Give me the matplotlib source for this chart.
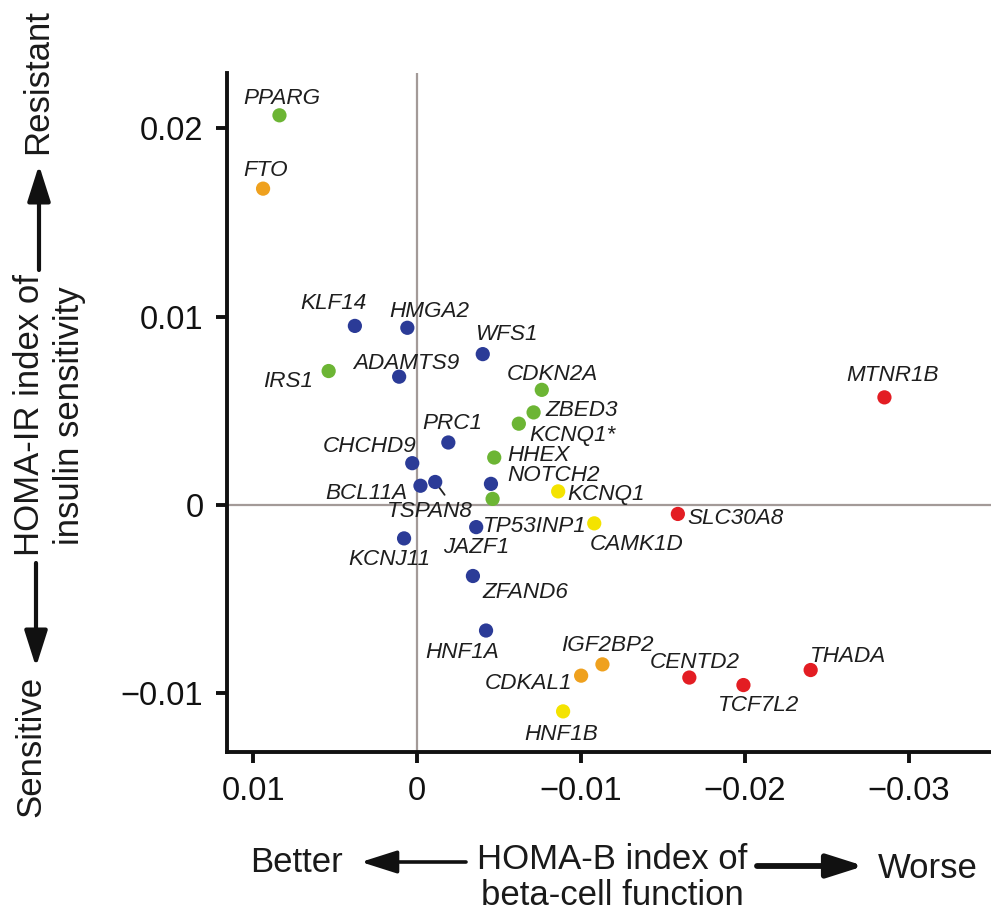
import matplotlib.pyplot as plt

# effect of each variant on HOMA-B (x) and HOMA-IR (y)
genes = ['PPARG', 'FTO', 'KLF14', 'HMGA2', 'WFS1', 'IRS1', 'ADAMTS9', 'CDKN2A',
         'ZBED3', 'KCNQ1*', 'PRC1', 'CHCHD9', 'HHEX', 'NOTCH2', 'BCL11A', 'TSPAN8',
         'TP53INP1', 'KCNQ1', 'JAZF1', 'CAMK1D', 'SLC30A8', 'KCNJ11', 'ZFAND6',
         'MTNR1B', 'HNF1A', 'IGF2BP2', 'CDKAL1', 'HNF1B', 'CENTD2', 'TCF7L2', 'THADA']
homa_b = [0.0084, 0.0094, 0.0038, 0.0006, -0.0040, 0.0054, 0.0011, -0.0076,
          -0.0071, -0.0062, -0.0019, 0.0003, -0.0047, -0.0045, -0.0002, -0.0011,
          -0.0046, -0.0086, -0.0036, -0.0108, -0.0159, 0.0008, -0.0034,
          -0.0285, -0.0042, -0.0113, -0.0100, -0.0089, -0.0166, -0.0199, -0.0240]
homa_ir = [0.0207, 0.0168, 0.0095, 0.0094, 0.0080, 0.0071, 0.0068, 0.0061,
           0.0049, 0.0043, 0.0033, 0.0022, 0.0025, 0.0011, 0.0010, 0.0012,
           0.0003, 0.0007, -0.0012, -0.0010, -0.0005, -0.0018, -0.0038,
           0.0057, -0.0067, -0.0085, -0.0091, -0.0110, -0.0092, -0.0096, -0.0088]
groups = ['green', 'orange', 'blue', 'blue', 'blue', 'green', 'blue', 'green',
          'green', 'green', 'blue', 'blue', 'green', 'blue', 'blue', 'blue',
          'green', 'yellow', 'blue', 'yellow', 'red', 'blue', 'blue',
          'red', 'blue', 'orange', 'orange', 'yellow', 'red', 'red', 'red']

x_ticks = [0.01, 0, -0.01, -0.02, -0.03]
x_ticklabels = ['0.01', '0', '\u22120.01', '\u22120.02', '\u22120.03']
y_ticks = [-0.01, 0, 0.01, 0.02]
y_ticklabels = ['\u22120.01', '0', '0.01', '0.02']

colors = {'green': '#6cb534', 'orange': '#efa11e', 'blue': '#2b3b97',
          'red': '#e31d23', 'yellow': '#f4e300'}

# label placement relative to each dot (pixels) and alignment
label_dx = [2, 3, -21, 22, 24, -16, 7, 11, 12, 10, 4, 4, 13, 63, -13, -5,
            -10, 9, 0, -4, 10, -15, 10, 8, -24, 5, -9, -2, 5, 15, 37]
label_dy = [11, 13, 17, 11, 14, -16, 8, 10, -4, -17, 13, 11, -3, 3, -13, -35,
            -33, -9, -26, -27, -10, -27, -22, 16, -27, 13, -13, -29, 10, -26, 8]
label_ha = ['center', 'center', 'center', 'center', 'center', 'right', 'center', 'center',
            'left', 'left', 'center', 'right', 'left', 'center', 'right', 'center',
            'left', 'left', 'center', 'left', 'left', 'center', 'left',
            'center', 'center', 'center', 'right', 'center', 'center', 'center', 'center']

plt.rcParams['font.family'] = ['Liberation Sans', 'DejaVu Sans']

W, H = 991, 918
fig = plt.figure(figsize=(W / 100, H / 100), dpi=100)
ax = fig.add_axes([227 / W, 1 - 752 / H, 1 - 227 / W, (752 - 73) / H])

ax.axhline(0, color='#a39a98', lw=1.6, zorder=1)
ax.axvline(0, color='#a39a98', lw=1.6, zorder=1)

ax.scatter(homa_b, homa_ir, s=105, c=[colors[g] for g in groups],
           edgecolors='none', zorder=3)

for i, g in enumerate(genes):
    props = None
    if g == 'TSPAN8':
        props = dict(arrowstyle='-', color='#222222', lw=1.3, relpos=(0.72, 1.0),
                     shrinkA=3, shrinkB=4)
    ax.annotate(g, (homa_b[i], homa_ir[i]), xytext=(label_dx[i], label_dy[i]),
                textcoords='offset pixels', ha=label_ha[i], va='baseline',
                fontsize=16.2, style='italic', color='#1e1e1e',
                arrowprops=props, zorder=2)

ax.set_xlim(0.0116, -0.035)
ax.set_ylim(-0.01316, 0.02295)
ax.set_xticks(x_ticks)
ax.set_xticklabels(x_ticklabels)
ax.set_yticks(y_ticks)
ax.set_yticklabels(y_ticklabels)
ax.tick_params(direction='out', length=8, width=2.8, labelsize=23.5,
               pad=9, colors='#111111')
for s in ['top', 'right']:
    ax.spines[s].set_visible(False)
for s in ['left', 'bottom']:
    ax.spines[s].set_linewidth(2.8)
    ax.spines[s].set_color('#111111')


def arrow(x0, y0, x1, y1, lw):
    # coordinates given in image pixels (origin top-left)
    ax.annotate('', xy=(x1, H - y1), xytext=(x0, H - y0), xycoords='figure pixels',
                arrowprops=dict(arrowstyle='-|>,head_length=22,head_width=7',
                                mutation_scale=1, lw=lw, color='#111111',
                                shrinkA=0, shrinkB=0))


# x axis label with direction arrows
lab = dict(fontsize=25, color='#1a1a1a')
fig.text(250 / W, (H - 872) / H, 'Better', ha='left', va='baseline', **lab)
fig.text(612 / W, (H - 869) / H, 'HOMA-B index of', ha='center', va='baseline', **lab)
fig.text(612 / W, (H - 905) / H, 'beta-cell function', ha='center', va='baseline', **lab)
fig.text(878 / W, (H - 878) / H, 'Worse', ha='left', va='baseline', **lab)
arrow(466, 862, 361, 862, 2.6)
arrow(757, 866, 864, 866, 4.2)

# y axis label with direction arrows
fig.text(38 / W, 1 - 82 / H, 'Resistant', rotation=90, ha='center', va='center', **lab)
fig.text(30 / W, 1 - 415 / H, 'HOMA-IR index of', rotation=90, ha='center', va='center', **lab)
fig.text(69 / W, 1 - 416 / H, 'insulin sensitivity', rotation=90, ha='center', va='center', **lab)
fig.text(31 / W, 1 - 746 / H, 'Sensitive', rotation=90, ha='center', va='center', **lab)
arrow(39, 270, 39, 165, 3)
arrow(36, 563, 36, 667, 3)

plt.savefig('out.png', dpi=100)
